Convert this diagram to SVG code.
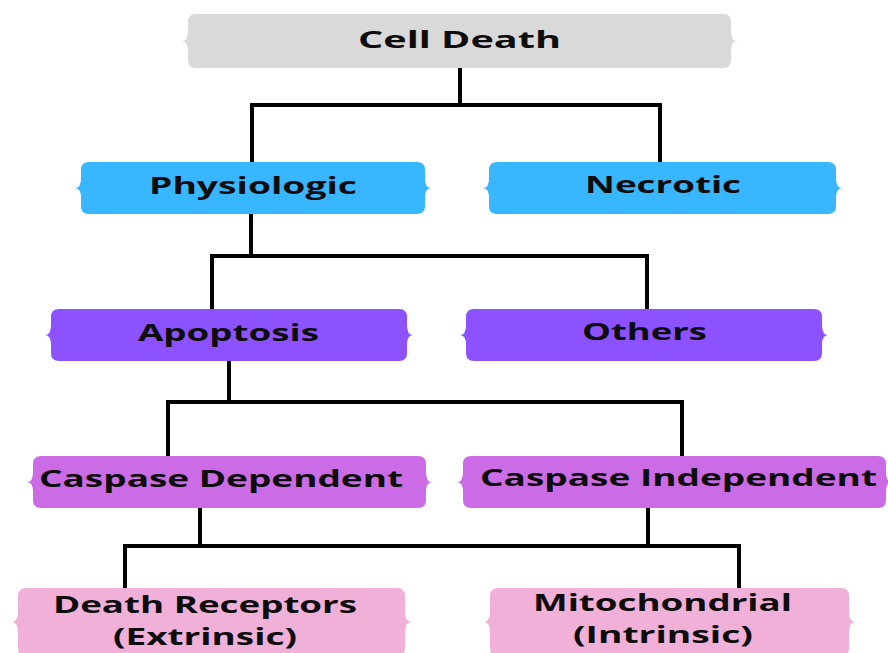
<svg xmlns="http://www.w3.org/2000/svg" width="888" height="653" viewBox="0 0 888 653">
<style>
.lbl{font-family:"Open Sans","Noto Sans","DejaVu Sans",sans-serif;font-weight:700;font-size:24px;fill:#0d0d0d}
.conn{fill:none;stroke:#000;stroke-width:4;stroke-linejoin:miter;stroke-linecap:butt}
.gray{fill:#d9d9d9}.blue{fill:#38b6ff}.purple{fill:#8c52ff}.violet{fill:#cb6ce6}.pink{fill:#f0b0d8}
</style>
<rect width="888" height="653" fill="#fff"/>
<g id="connectors" class="conn">
<path d="M460,68 V105 M252,162 V105 H660 V162"/>
<path d="M251,214 V256 M212,309 V256 H647 V309"/>
<path d="M229,361 V402 M168,456 V402 H682 V456"/>
<path d="M200,508 V546 M648,508 V546 M125,588 V546 H739 V588"/>
</g>
<g id="cell-death">
<path class="gray" d="M196,14 H723 Q731,14 731,22 V31 Q731,41 737,41 Q731,41 731,51 V60 Q731,68 723,68 H196 Q188,68 188,60 V51 Q188,41 182,41 Q188,41 188,31 V22 Q188,14 196,14 Z"/>
<text class="lbl" x="358" y="48" textLength="203" lengthAdjust="spacingAndGlyphs">Cell Death</text>
</g>
<g id="physiologic">
<path class="blue" d="M89,162 H417 Q425,162 425,170 V178 Q425,188 431,188 Q425,188 425,198 V206 Q425,214 417,214 H89 Q81,214 81,206 V198 Q81,188 75,188 Q81,188 81,178 V170 Q81,162 89,162 Z"/>
<text class="lbl" x="149" y="194" textLength="208" lengthAdjust="spacingAndGlyphs">Physiologic</text>
</g>
<g id="necrotic">
<path class="blue" d="M497,162 H828 Q836,162 836,170 V178 Q836,188 842,188 Q836,188 836,198 V206 Q836,214 828,214 H497 Q489,214 489,206 V198 Q489,188 483,188 Q489,188 489,178 V170 Q489,162 497,162 Z"/>
<text class="lbl" x="585" y="193" textLength="156" lengthAdjust="spacingAndGlyphs">Necrotic</text>
</g>
<g id="apoptosis">
<path class="purple" d="M59,309 H399 Q407,309 407,317 V325 Q407,335 413,335 Q407,335 407,345 V353 Q407,361 399,361 H59 Q51,361 51,353 V345 Q51,335 45,335 Q51,335 51,325 V317 Q51,309 59,309 Z"/>
<text class="lbl" x="138" y="341" textLength="181" lengthAdjust="spacingAndGlyphs">Apoptosis</text>
</g>
<g id="others">
<path class="purple" d="M474,309 H814 Q822,309 822,317 V325 Q822,335 828,335 Q822,335 822,345 V353 Q822,361 814,361 H474 Q466,361 466,353 V345 Q466,335 460,335 Q466,335 466,325 V317 Q466,309 474,309 Z"/>
<text class="lbl" x="582" y="340" textLength="125" lengthAdjust="spacingAndGlyphs">Others</text>
</g>
<g id="caspase-dependent">
<path class="violet" d="M41,456 H418 Q426,456 426,464 V472 Q426,482 432,482 Q426,482 426,492 V500 Q426,508 418,508 H41 Q33,508 33,500 V492 Q33,482 27,482 Q33,482 33,472 V464 Q33,456 41,456 Z"/>
<text class="lbl" x="39" y="487" textLength="364" lengthAdjust="spacingAndGlyphs">Caspase Dependent</text>
</g>
<g id="caspase-independent">
<path class="violet" d="M471,456 H878 Q886,456 886,464 V472 Q886,482 892,482 Q886,482 886,492 V500 Q886,508 878,508 H471 Q463,508 463,500 V492 Q463,482 457,482 Q463,482 463,472 V464 Q463,456 471,456 Z"/>
<text class="lbl" x="480" y="486" textLength="397" lengthAdjust="spacingAndGlyphs">Caspase Independent</text>
</g>
<g id="death-receptors">
<path class="pink" d="M26,588 H397 Q405,588 405,596 V611 Q405,622 411,622 Q405,622 405,633 V648 Q405,656 397,656 H26 Q18,656 18,648 V633 Q18,622 12,622 Q18,622 18,611 V596 Q18,588 26,588 Z"/>
<text class="lbl" x="53" y="613" textLength="304" lengthAdjust="spacingAndGlyphs">Death Receptors</text>
<text class="lbl" x="113" y="645" textLength="184" lengthAdjust="spacingAndGlyphs">(Extrinsic)</text>
</g>
<g id="mitochondrial">
<path class="pink" d="M498,588 H841 Q849,588 849,596 V611 Q849,622 855,622 Q849,622 849,633 V648 Q849,656 841,656 H498 Q490,656 490,648 V633 Q490,622 484,622 Q490,622 490,611 V596 Q490,588 498,588 Z"/>
<text class="lbl" x="533" y="611" textLength="259" lengthAdjust="spacingAndGlyphs">Mitochondrial</text>
<text class="lbl" x="573" y="643" textLength="180" lengthAdjust="spacingAndGlyphs">(Intrinsic)</text>
</g>
</svg>
